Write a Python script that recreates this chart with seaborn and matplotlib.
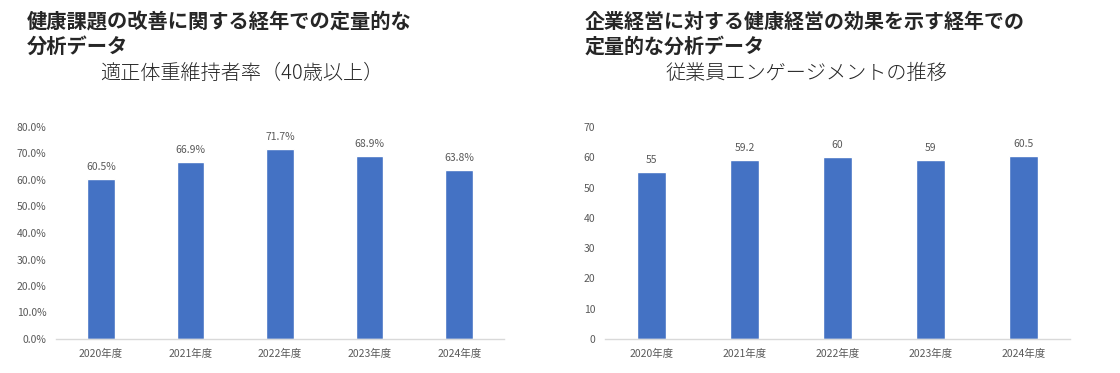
import matplotlib
matplotlib.use("Agg")
import matplotlib.pyplot as plt
import seaborn as sns
import pandas as pd

# --- data ---
years = ["2020年度", "2021年度", "2022年度", "2023年度", "2024年度"]
weight_rate = [0.605, 0.669, 0.717, 0.689, 0.638]
engagement = [55, 59.2, 60, 59, 60.5]

title_left = "健康課題の改善に関する経年での定量的な\n分析データ"
sub_left = "適正体重維持者率（40歳以上）"
title_right = "企業経営に対する健康経営の効果を示す経年での\n定量的な分析データ"
sub_right = "従業員エンゲージメントの推移"

sns.set_style("white")
plt.rcParams['font.family'] = ['Noto Sans CJK JP', 'DejaVu Sans']

BAR = "#4472C4"
GRAY = "#595959"
W, H = 1120, 373

fig = plt.figure(figsize=(W / 100, H / 100), dpi=100)


def px_axes(x0, y0, x1, y1):
    return fig.add_axes([x0 / W, 1 - y1 / H, (x1 - x0) / W, (y1 - y0) / H])


def draw(ax, values, ymax, step, pct):
    df = pd.DataFrame({"year": years, "value": values})
    sns.barplot(data=df, x="year", y="value", color=BAR, width=0.31,
                saturation=1, ax=ax)
    ax.set_ylim(0, ymax)
    ax.set_xlim(-0.5, len(years) - 0.5)
    ticks = [i * step for i in range(int(round(ymax / step)) + 1)]
    ax.set_yticks(ticks)
    if pct:
        ax.set_yticklabels([f"{t * 100:.1f}%" for t in ticks])
    else:
        ax.set_yticklabels([f"{t:g}" for t in ticks])
    ax.set_xlabel("")
    ax.set_ylabel("")
    for s in ["top", "right", "left"]:
        ax.spines[s].set_visible(False)
    ax.spines["bottom"].set_color("#D9D9D9")
    ax.spines["bottom"].set_linewidth(1)
    ax.tick_params(axis="both", length=0, labelsize=7.5, colors=GRAY)
    ax.tick_params(axis="x", pad=7)
    ax.tick_params(axis="y", pad=7)
    for bar, v in zip(ax.patches, values):
        lab = f"{v * 100:.1f}%" if pct else f"{v:g}"
        ax.annotate(lab, (bar.get_x() + bar.get_width() / 2, bar.get_height()),
                    xytext=(0, 5), textcoords="offset points",
                    ha="center", va="bottom", fontsize=7.5, color=GRAY)


ax1 = px_axes(56, 127, 504, 339)
draw(ax1, weight_rate, 0.8, 0.1, True)
ax2 = px_axes(605, 127, 1070, 339)
draw(ax2, engagement, 70, 10, False)

fig.text(27 / W, 1 - 11 / H, title_left, ha="left", va="top", fontsize=14.6,
         fontweight="bold", linespacing=1.2)
fig.text(242 / W, 1 - 73 / H, sub_left, ha="center", va="center", fontsize=14.5,
         fontweight="light", color="#262626")
fig.text(585 / W, 1 - 11 / H, title_right, ha="left", va="top", fontsize=14.4,
         fontweight="bold", linespacing=1.2)
fig.text(806 / W, 1 - 73 / H, sub_right, ha="center", va="center", fontsize=14.5,
         fontweight="light", color="#262626")

fig.savefig("out.png", dpi=100)
